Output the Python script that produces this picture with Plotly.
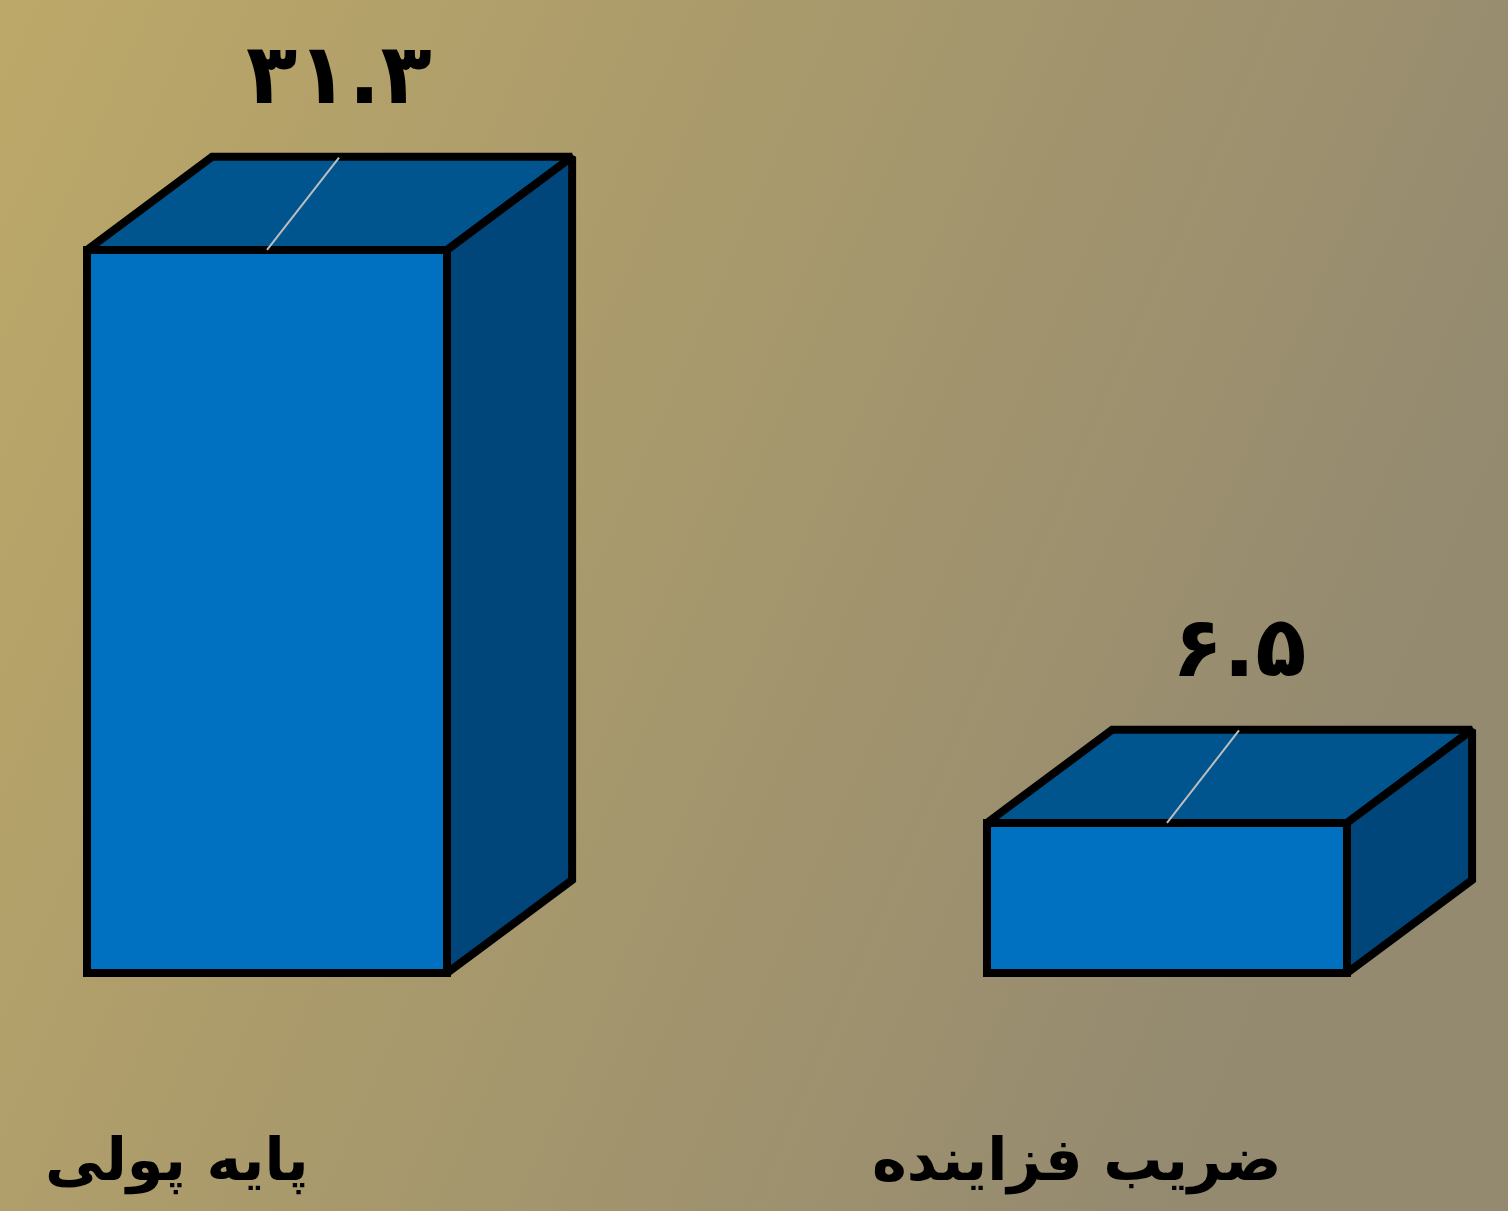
import base64
import plotly.graph_objects as go

# data
categories = ["پایه پولی", "ضریب فزاینده"]
values = [31.3, 6.5]
value_labels = ["۳۱.۳", "۶.۵"]

# box look
bar_width = 0.4
depth_x = 0.139
depth_y = 4.03
front_color = "#0070c0"
top_color = "#00558f"
side_color = "#00467a"
edge = dict(color="black", width=8)

fig = go.Figure()

for i, v in enumerate(values):
    x0, x1 = i - bar_width / 2, i + bar_width / 2
    faces = [
        ([x0, x1, x1, x0], [0, 0, v, v], front_color),
        ([x0, x1, x1 + depth_x, x0 + depth_x], [v, v, v + depth_y, v + depth_y], top_color),
        ([x1, x1 + depth_x, x1 + depth_x, x1], [0, depth_y, v + depth_y, v], side_color),
    ]
    for xs, ys, c in faces:
        # go round once more past the start so every corner gets a join
        fig.add_trace(go.Scatter(x=xs + xs[:2], y=ys + ys[:2], mode="lines",
                                 fill="toself", fillcolor=c, line=edge,
                                 hoverinfo="skip", showlegend=False))
    # leader line from label to the top face
    fig.add_trace(go.Scatter(x=[i, i + 0.08], y=[v, v + 4.0], mode="lines",
                             line=dict(color="#bdbdbd", width=2),
                             hoverinfo="skip", showlegend=False))
    fig.add_annotation(x=i + 0.08, y=v + 7.6, text=value_labels[i],
                       showarrow=False, yanchor="middle",
                       font=dict(family="DejaVu Sans", size=84, color="black", weight="bold"))
    fig.add_annotation(x=i - 0.1, y=-8.1, text=categories[i],
                       showarrow=False, yanchor="middle",
                       font=dict(family="DejaVu Sans", size=59, color="black", weight="bold"))

# diagonal gradient background
svg = ('<svg xmlns="http://www.w3.org/2000/svg" width="1508" height="1211" '
       'viewBox="0 0 1508 1211" preserveAspectRatio="none"><defs>'
       '<linearGradient id="g" x1="0" y1="0" x2="1" y2="0.35">'
       '<stop offset="0" stop-color="#bca868"/><stop offset="1" stop-color="#948a70"/>'
       '</linearGradient></defs><rect width="1508" height="1211" fill="url(#g)"/></svg>')
bg = "data:image/svg+xml;base64," + base64.b64encode(svg.encode()).decode()

fig.update_layout(
    width=1508, height=1211,
    margin=dict(l=0, r=0, t=0, b=0),
    paper_bgcolor="#a89a6c",
    plot_bgcolor="rgba(0,0,0,0)",
    images=[dict(source=bg, xref="paper", yref="paper", x=0, y=1,
                 sizex=1, sizey=1, sizing="stretch", layer="below")],
    xaxis=dict(range=[-0.2967, 1.3789], visible=False, fixedrange=True),
    yaxis=dict(range=[-10.30, 42.12], visible=False, fixedrange=True),
)

fig.write_html("out.html", config={"displayModeBar": False},
               post_script="document.body.style.margin='0';")
